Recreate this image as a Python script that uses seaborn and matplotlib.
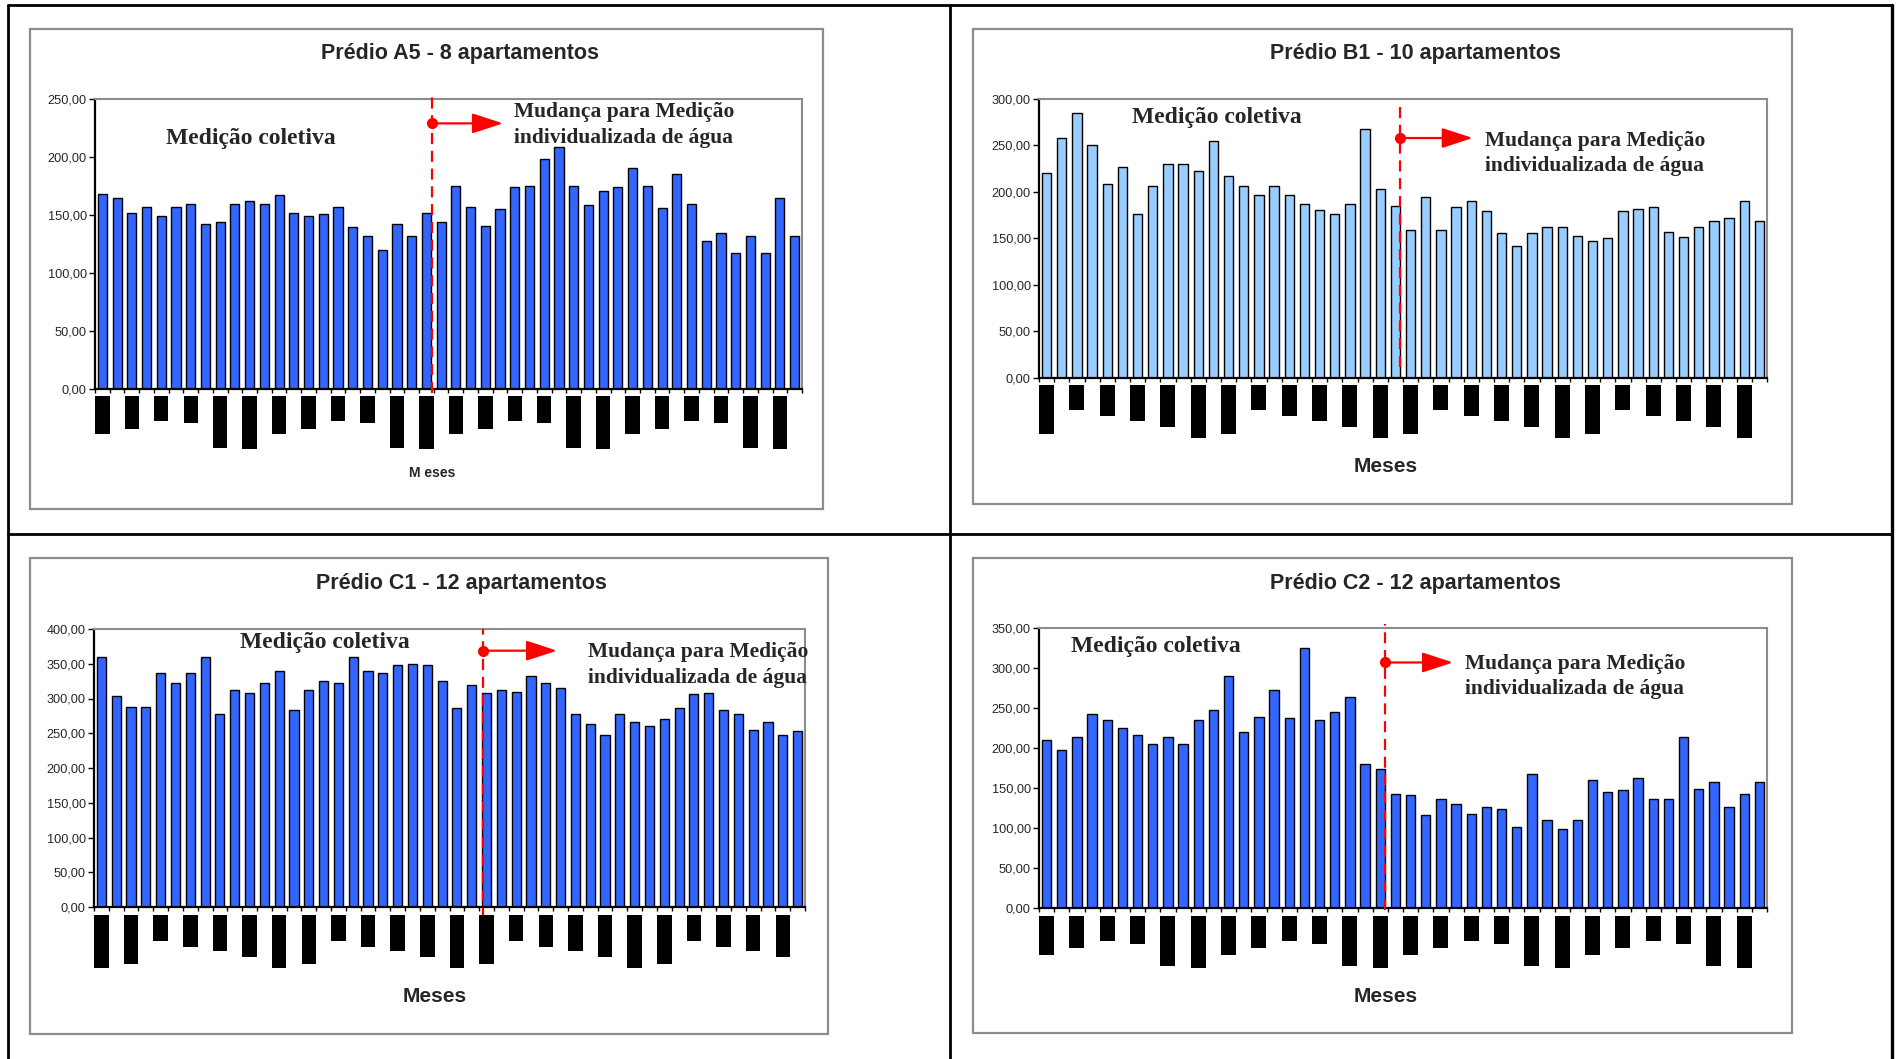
import numpy as np
import matplotlib
matplotlib.use("Agg")
import matplotlib.pyplot as plt
import matplotlib.transforms as mtransforms
from matplotlib.patches import Rectangle
from matplotlib.lines import Line2D
from matplotlib.ticker import FuncFormatter
import seaborn as sns

# Monthly water consumption per building (48 months)
meses = list(range(1, 49))

predio_a5 = [168, 165, 152, 157, 149, 157, 160, 142, 144, 160, 162, 160,
             167, 152, 149, 151, 157, 140, 132, 120, 142, 132, 152, 144,
             175, 157, 141, 155, 174, 175, 198, 209, 175, 159, 171, 174,
             191, 175, 156, 185, 160, 128, 135, 117, 132, 117, 165, 132]

predio_b1 = [220, 258, 285, 250, 209, 227, 176, 206, 230, 230, 223, 255,
             217, 206, 197, 206, 197, 187, 180, 176, 187, 268, 203, 185,
             159, 195, 159, 184, 190, 179, 156, 142, 156, 162, 162, 153,
             147, 150, 179, 182, 184, 157, 151, 162, 169, 172, 190, 169]

predio_c1 = [360, 304, 288, 288, 337, 323, 337, 360, 277, 312, 308, 323,
             339, 283, 312, 325, 323, 360, 339, 337, 348, 350, 348, 325,
             286, 319, 308, 312, 310, 332, 323, 315, 277, 264, 248, 277,
             266, 261, 270, 286, 306, 308, 283, 277, 255, 266, 248, 253]

predio_c2 = [210, 197, 214, 243, 235, 225, 216, 205, 214, 205, 235, 247,
             290, 220, 239, 273, 237, 325, 235, 245, 264, 180, 174, 143,
             141, 116, 136, 130, 118, 126, 124, 101, 168, 110, 99, 110,
             160, 145, 147, 162, 136, 136, 214, 149, 157, 126, 143, 157]

titulos = ["Prédio A5 - 8 apartamentos", "Prédio B1 - 10 apartamentos",
           "Prédio C1 - 12 apartamentos", "Prédio C2 - 12 apartamentos"]

W, H = 1898, 1059
sns.set_style("white")
plt.rcParams["font.family"] = ["Liberation Sans", "DejaVu Sans"]

fig = plt.figure(figsize=(W / 100, H / 100), dpi=100)
fig.patch.set_facecolor("white")


def fx(x):
    return x / W


def fy(y):
    return 1 - y / H


# Panel layout in pixels
paineis = [
    dict(dados=predio_a5, titulo=titulos[0], cor="#3366FF", ymax=250,
         frame=(30, 29, 823, 509), axes=(95, 99, 802, 389.3),
         tit=(460, 54), col=(250.6, 138.6), mud=(514.5, 110, 135),
         meses=(432, 473, 10, "M eses"),
         linha=(22.4, -3, 255, 229, 27.2),
         rot_top=396, rot=[38.5, 32.5, 24.7, 27, 51.7, 52.7]),
    dict(dados=predio_b1, titulo=titulos[1], cor="#99CCFF", ymax=300,
         frame=(973, 29, 1792, 503.5), axes=(1039, 99, 1767, 377.7),
         tit=(1415, 54), col=(1217, 117.6), mud=(1485, 138.6, 164),
         meses=(1386, 466.5, 15, "Meses"),
         linha=(23.3, 12, 295, 258, 28.1),
         rot_top=384.7, rot=[49, 25, 31, 36.2, 41.9, 53.1]),
    dict(dados=predio_c1, titulo=titulos[2], cor="#3366FF", ymax=400,
         frame=(30, 558, 828, 1034), axes=(94, 629, 805, 907),
         tit=(461, 583), col=(324.8, 642.6), mud=(588, 650, 676),
         meses=(434.6, 996.5, 15, "Meses"),
         linha=(25.75, -17, 400, 368.8, 30.76),
         rot_top=915.4, rot=[52.4, 49, 25.4, 31.1, 35.5, 41.2]),
    dict(dados=predio_c2, titulo=titulos[3], cor="#3366FF", ymax=350,
         frame=(973, 558, 1792, 1033), axes=(1039, 628, 1767, 908),
         tit=(1415, 583), col=(1155.6, 646.6), mud=(1465, 661, 686.5),
         meses=(1386, 996.5, 15, "Meses"),
         linha=(22.3, -2.5, 355.5, 306.9, 26.8),
         rot_top=916, rot=[38.9, 31.8, 25, 27.7, 50.4, 51.7]),
]

fmt = FuncFormatter(lambda v, _: f"{v:.2f}".replace(".", ","))
serif = ["Liberation Serif", "DejaVu Serif"]

for p in paineis:
    l, t, r, b = p["frame"]
    fig.add_artist(Rectangle((fx(l), fy(b)), (r - l) / W, (b - t) / H,
                             transform=fig.transFigure, fill=False,
                             edgecolor="#8c8c8c", lw=1.6))

    al, at, ar, ab = p["axes"]
    ax = fig.add_axes([fx(al), fy(ab), (ar - al) / W, (ab - at) / H])
    sns.barplot(x=meses, y=p["dados"], color=p["cor"], saturation=1,
                width=0.62, edgecolor="black", linewidth=1.0, ax=ax)
    ax.set_xlim(-0.5, len(meses) - 0.5)
    ax.set_ylim(0, p["ymax"])
    ax.set_yticks(np.arange(0, p["ymax"] + 1, 50))
    ax.yaxis.set_major_formatter(fmt)
    ax.set_xticks(np.arange(-0.5, len(meses), 1))
    ax.set_xticklabels([])
    ax.set_xlabel("")
    ax.set_ylabel("")
    ax.tick_params(axis="x", direction="out", length=3, width=1.0,
                   color="black", bottom=True)
    ax.tick_params(axis="y", direction="out", length=4, width=1.0,
                   color="black", labelsize=9.2, pad=2, left=True)
    for s in ("left", "bottom"):
        ax.spines[s].set_color("black")
        ax.spines[s].set_linewidth(1.6)
    for s in ("top", "right"):
        ax.spines[s].set_color("#8c8c8c")
        ax.spines[s].set_linewidth(1.5)
    ax.set_facecolor("white")

    # month label blocks under the axis (every other month)
    trans = mtransforms.blended_transform_factory(ax.transData, fig.transFigure)
    top = p["rot_top"]
    for k, i in enumerate(range(0, len(meses), 2)):
        h = p["rot"][k % 6]
        fig.add_artist(Rectangle((i - 0.49, fy(top + h)), 0.98, h / H,
                                 transform=trans, color="black", lw=0))

    # change of metering: dashed line and arrow
    xl, y0, y1, ya, xt = p["linha"]
    ax.plot([xl, xl], [y0, y1], color="red", lw=1.6, ls=(0, (5, 3)),
            clip_on=False, zorder=5)
    ax.plot([xl], [ya], "o", color="red", ms=7, clip_on=False, zorder=6)
    ax.annotate("", xy=(xt, ya), xytext=(xl, ya),
                arrowprops=dict(arrowstyle="-|>,head_length=1.9,head_width=0.62",
                                color="red", lw=1.6, mutation_scale=10,
                                shrinkA=0, shrinkB=0),
                annotation_clip=False, zorder=6)

    cx, cy = p["tit"]
    fig.text(fx(cx), fy(cy), p["titulo"], ha="center", va="center",
             fontsize=15.5, fontweight="bold")
    cx, cy = p["col"]
    fig.text(fx(cx), fy(cy), "Medição coletiva", ha="center", va="center",
             fontsize=17, fontweight="bold", family=serif)
    mx, m1, m2 = p["mud"]
    fig.text(fx(mx), fy(m1), "Mudança para Medição", ha="left",
             va="center_baseline", fontsize=15.5, fontweight="bold", family=serif)
    fig.text(fx(mx), fy(m2), "individualizada de água", ha="left",
             va="center_baseline", fontsize=15.5, fontweight="bold", family=serif)
    mx, my, ms, mt = p["meses"]
    fig.text(fx(mx), fy(my), mt, ha="center", va="center",
             fontsize=ms, fontweight="bold")

# outer grid lines
for xs, ys, lw in [([8, 1892], [5, 5], 2.0), ([8, 1892], [533.7, 533.7], 2.0),
                   ([8, 8], [5, 1059], 2.0), ([950, 950], [5, 1059], 2.0),
                   ([1891.5, 1891.5], [5, 1059], 2.4)]:
    fig.add_artist(Line2D([fx(v) for v in xs], [fy(v) for v in ys],
                          transform=fig.transFigure, color="black", lw=lw))

fig.savefig("out.png", dpi=100, facecolor="white")
